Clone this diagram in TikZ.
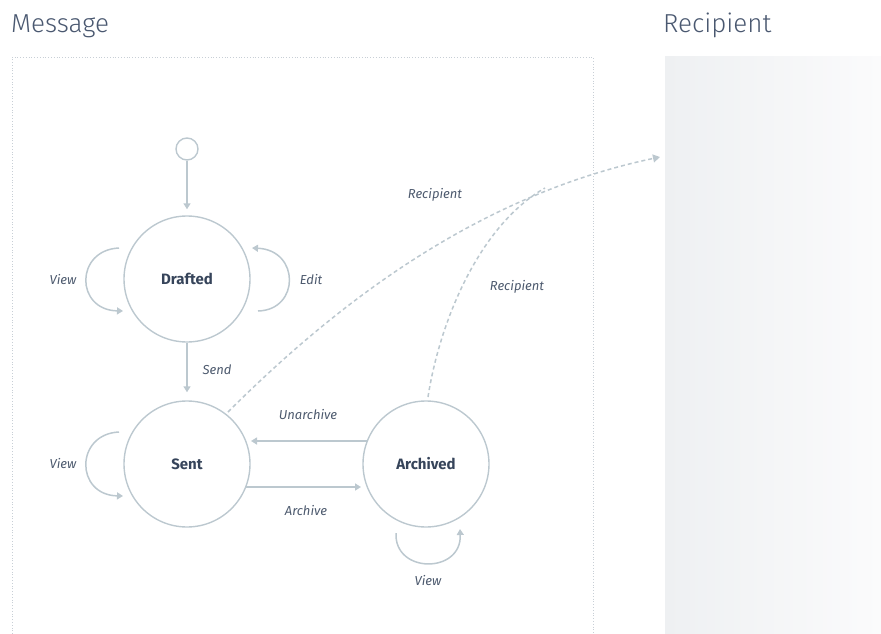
\documentclass[tikz,border=0pt]{standalone}
\usepackage{fontspec}
\setmainfont{Fira Sans}
\newfontfamily\lightfont{Fira Sans Light}
\usetikzlibrary{arrows.meta,calc}
\definecolor{edgec}{HTML}{BCC8CF}
\definecolor{boxc}{HTML}{C8CFD6}
\definecolor{titlec}{HTML}{4A5870}
\definecolor{statec}{HTML}{36445A}
\definecolor{labc}{HTML}{4D5A6E}
\definecolor{panelL}{HTML}{EEF0F2}
\definecolor{panelR}{HTML}{FBFBFC}
\tikzset{
  state/.style={circle, draw=edgec, line width=1.4pt, minimum size=126pt, inner sep=0pt,
    font=\fontsize{15}{18}\selectfont\bfseries, text=statec},
  initst/.style={circle, draw=edgec, line width=1.4pt, minimum size=22pt, inner sep=0pt},
  arr/.style={draw=edgec, line width=1.5pt, -{Triangle[width=7pt,length=6pt]}},
  plainln/.style={draw=edgec, line width=1.5pt},
  rarr/.style={draw=edgec, line width=1.5pt, dash pattern=on 4pt off 3pt, -{Triangle[width=8pt,length=7pt]}},
  rln/.style={draw=edgec, line width=1.5pt, dash pattern=on 4pt off 3pt},
  lab/.style={font=\fontsize{13}{16}\selectfont\itshape, text=labc},
  ttl/.style={font=\lightfont\fontsize{26}{30}\selectfont, text=titlec, anchor=base west, inner sep=0pt}
}
\begin{document}
\begin{tikzpicture}[x=1pt,y=-1pt]
\useasboundingbox (0,0) rectangle (881,634);
% panels
\shade[left color=panelL, right color=panelR] (665,57) rectangle (881,634);
\draw[boxc, line width=0.8pt, dotted] (12,634) -- (12,57) -- (593,57) -- (593,634);
% titles
\node[ttl] (tmsg) at (11,33) {Message};
\node[ttl] (trcp) at (663,33) {Recipient};
% states
\node[initst] (I) at (187,149) {};
\node[state] (D) at (187,279) {Drafted};
\node[state] (S) at (187,464) {Sent};
\node[state] (A) at (426,464) {Archived};
\coordinate (R) at (660,157);
\coordinate (M) at (545,188);
% straight transitions
\draw[arr, shorten >=6pt] (I) -- (D);
\draw[arr, shorten >=8pt] (D) -- (S);
\draw[arr] ($(A.center)+(-59,-23)$) -- ($(S.center)+(64,-23)$);
\draw[arr] ($(S.center)+(59,23)$) -- ($(A.center)+(-65,23)$);
% self loops
\draw[arr] ($(D.center)+(-68,-31)$) .. controls +(-44,2) and +(-48,-1) .. ($(D.center)+(-64,32)$);
\draw[arr] ($(D.center)+(71,32)$) .. controls +(42,-1) and +(48,2) .. ($(D.center)+(65,-31)$);
\draw[arr] ($(S.center)+(-68,-32)$) .. controls +(-44,2) and +(-48,-1) .. ($(S.center)+(-64,32)$);
\draw[arr] ($(A.center)+(-30,69)$) .. controls +(-2,41) and +(2,45) .. ($(A.center)+(34,65)$);
% recipient links
\draw[rarr] ($(S.center)+(41,-52)$) .. controls (340,300) and (480,195) .. (R);
\draw[rln] ($(A.center)+(2,-67)$) .. controls (440,320) and (480,225) .. (M);
% labels
\node[lab] (lv1) at (63,280) {View};
\node[lab] (le) at (311,280) {Edit};
\node[lab] (ls) at (217,370) {Send};
\node[lab] (lv2) at (63,464) {View};
\node[lab] (lu) at (308,415) {Unarchive};
\node[lab] (la) at (306,511) {Archive};
\node[lab] (lv3) at (428,581) {View};
\node[lab] (lr1) at (435,195) {Recipient};
\node[lab] (lr2) at (517,287) {Recipient};
\end{tikzpicture}
\end{document}
